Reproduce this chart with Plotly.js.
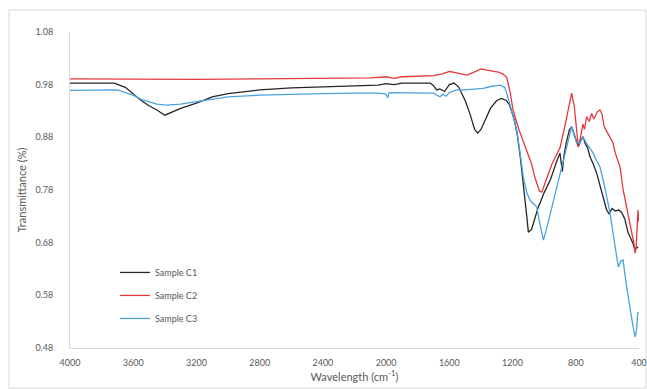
<!DOCTYPE html>
<html>
<head>
<meta charset="utf-8">
<script src="https://cdn.plot.ly/plotly-3.0.1.min.js"></script>
<style>html,body{margin:0;padding:0;background:#fff;}#chart{width:647px;height:389px;}</style>
</head>
<body>
<div id="chart"></div>
<script>
// Sample C1 (black)
const c1Wavenumber = [4000,3800,3720,3650,3600,3550,3500,3450,3400,3350,3300,3200,3100,3000,2800,2600,2400,2200,2050,2000,1950,1900,1800,1720,1700,1680,1660,1630,1600,1570,1540,1500,1470,1440,1420,1400,1370,1340,1300,1270,1240,1220,1190,1170,1150,1130,1110,1100,1080,1060,1040,1000,960,920,900,885,875,860,840,826,810,795,784,770,754,740,725,710,690,668,650,630,605,590,570,550,530,510,490,470,455,440,425,415,405];
const c1Trans = [0.983,0.984,0.983,0.975,0.962,0.950,0.940,0.932,0.922,0.928,0.935,0.945,0.957,0.963,0.970,0.974,0.976,0.978,0.979,0.982,0.980,0.983,0.983,0.983,0.978,0.970,0.972,0.967,0.980,0.983,0.975,0.950,0.925,0.895,0.888,0.895,0.915,0.935,0.950,0.954,0.950,0.942,0.915,0.885,0.840,0.790,0.730,0.700,0.705,0.725,0.745,0.775,0.800,0.835,0.850,0.815,0.845,0.870,0.895,0.900,0.885,0.870,0.862,0.875,0.881,0.868,0.860,0.843,0.830,0.812,0.790,0.770,0.742,0.735,0.745,0.740,0.742,0.738,0.725,0.700,0.690,0.680,0.666,0.672,0.670];

// Sample C2 (red)
const c2Wavenumber = [4000,3600,3200,2800,2400,2100,2000,1950,1900,1800,1700,1650,1600,1560,1520,1490,1450,1400,1370,1330,1290,1260,1237,1215,1197,1160,1130,1110,1080,1060,1047,1030,1015,1000,980,950,920,900,870,850,826,810,795,784,770,755,745,731,715,700,685,665,647,635,620,600,583,565,550,535,520,500,480,465,457,440,430,425,418,410,406,402];
const c2Trans = [0.991,0.990,0.990,0.991,0.992,0.993,0.995,0.992,0.995,0.996,0.997,1.000,1.005,1.003,1.000,0.998,1.003,1.010,1.008,1.006,1.004,1.000,0.994,0.965,0.932,0.895,0.870,0.856,0.830,0.805,0.793,0.778,0.776,0.790,0.805,0.830,0.850,0.860,0.900,0.930,0.964,0.940,0.890,0.862,0.880,0.905,0.895,0.919,0.910,0.925,0.915,0.928,0.932,0.925,0.900,0.890,0.881,0.870,0.850,0.835,0.824,0.780,0.750,0.725,0.717,0.690,0.675,0.660,0.670,0.720,0.742,0.720];

// Sample C3 (blue)
const c3Wavenumber = [4000,3800,3700,3650,3600,3550,3500,3450,3390,3300,3200,3000,2800,2588,2400,2200,2050,2000,1990,1980,1900,1800,1700,1680,1659,1640,1620,1600,1553,1500,1450,1387,1330,1279,1250,1237,1210,1174,1150,1132,1110,1090,1070,1047,1030,1005,990,970,942,910,879,850,826,810,795,773,755,735,715,690,668,647,620,600,583,560,545,531,515,501,480,457,440,425,415,408,402];
const c3Trans = [0.969,0.970,0.970,0.965,0.960,0.952,0.947,0.943,0.941,0.943,0.948,0.957,0.960,0.962,0.963,0.964,0.964,0.962,0.955,0.965,0.965,0.965,0.964,0.960,0.957,0.962,0.958,0.965,0.970,0.970,0.971,0.973,0.977,0.979,0.975,0.964,0.935,0.894,0.845,0.805,0.775,0.761,0.755,0.748,0.720,0.685,0.700,0.725,0.761,0.800,0.837,0.870,0.900,0.885,0.870,0.869,0.881,0.870,0.860,0.850,0.835,0.824,0.790,0.760,0.736,0.690,0.660,0.634,0.645,0.647,0.600,0.552,0.525,0.501,0.515,0.546,0.548];

const seriesNames = ["Sample C1", "Sample C2", "Sample C3"];
const xTickVals = [4000,3600,3200,2800,2400,2000,1600,1200,800,400];
const yTickVals = [0.48,0.58,0.68,0.78,0.88,0.98,1.08];

const colors = ["#262626", "#e5383b", "#4aa3df"];
const xs = [c1Wavenumber, c2Wavenumber, c3Wavenumber];
const ys = [c1Trans, c2Trans, c3Trans];

const traces = seriesNames.map((n, i) => ({
  type: "scatter", mode: "lines", name: n,
  x: xs[i], y: ys[i], legendgroup: "g" + i,
  line: {color: colors[i], width: 1.3}
}));

const fam = "Lato, 'Open Sans', sans-serif";
const tickFont = {family: fam, size: 9, color: "#595959"};

const layout = {
  width: 647, height: 389,
  margin: {l: 70, r: 8, t: 32, b: 41},
  paper_bgcolor: "#ffffff", plot_bgcolor: "#ffffff",
  showlegend: true,
  legend: {
    x: 0.079, y: 0.285, xanchor: "left", yanchor: "top",
    bgcolor: "rgba(0,0,0,0)", tracegroupgap: 4,
    font: {family: fam, size: 9, color: "#595959"}
  },
  xaxis: {
    range: [4000, 400], tickvals: xTickVals, ticktext: xTickVals.map(String),
    showgrid: false, zeroline: false, showline: true, linecolor: "#d9d9d9", linewidth: 1,
    ticks: "", tickfont: tickFont, ticklabelstandoff: 6,
    title: {text: "Wavelength (cm<sup>-1</sup>)", font: {family: fam, size: 11, color: "#595959"}, standoff: 6}
  },
  yaxis: {
    range: [0.48, 1.08], tickvals: yTickVals, ticktext: yTickVals.map(v => v.toFixed(2)),
    showgrid: false, zeroline: false, showline: true, linecolor: "#d9d9d9", linewidth: 1,
    ticks: "", tickfont: tickFont, ticklabelstandoff: 14,
    title: {text: "Transmittance (%)", font: {family: fam, size: 11, color: "#595959"}, standoff: 6}
  },
  shapes: [{
    type: "rect", xref: "paper", yref: "paper",
    x0: -0.1072, x1: 1.0123, y0: -0.127, y1: 1.0696,
    line: {color: "#d9d9d9", width: 1}, fillcolor: "rgba(0,0,0,0)", layer: "below"
  }]
};

Plotly.newPlot("chart", traces, layout, {displayModeBar: false, staticPlot: true});
</script>
</body>
</html>
